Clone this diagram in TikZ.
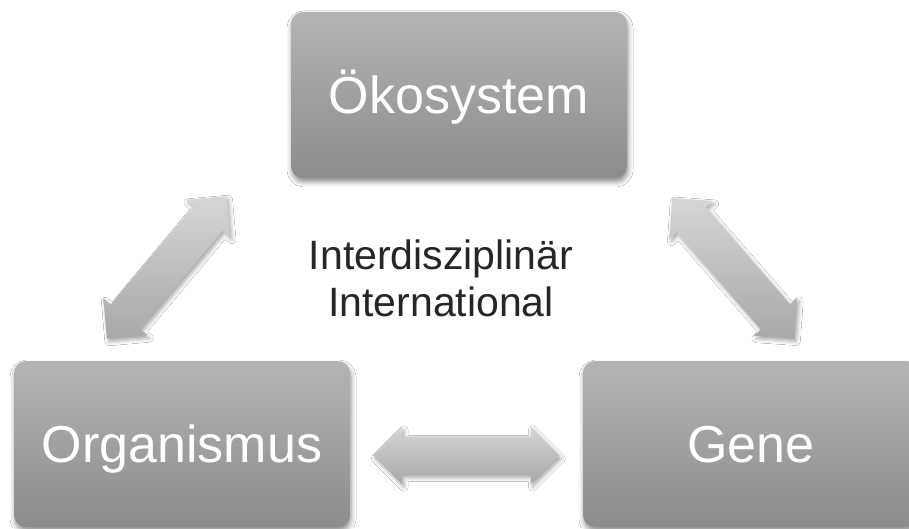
\documentclass[tikz,border=0pt]{standalone}
\usepackage{fontspec}
\setmainfont{Liberation Sans}
\usetikzlibrary{shapes.arrows,shadows.blur}
\definecolor{boxtop}{RGB}{180,180,180}
\definecolor{boxbot}{RGB}{140,140,140}
\definecolor{arrtop}{RGB}{214,214,214}
\definecolor{arrbot}{RGB}{168,168,168}
\definecolor{txtgray}{RGB}{38,38,38}
\begin{document}
\begin{tikzpicture}[x=1pt,y=1pt,
  box/.style={rounded corners=12pt, minimum width=336pt, minimum height=166pt,
    inner sep=0pt, text height=37pt, text depth=0pt,
    top color=boxtop, bottom color=boxbot, draw=none, text=white,
    font=\fontsize{52}{60}\selectfont,
    blur shadow={shadow xshift=1pt, shadow yshift=-4pt, shadow blur radius=5pt, shadow opacity=45}},
  blockarrow/.style={double arrow, double arrow head extend=9.5pt, double arrow tip angle=90,
    minimum height=186pt, inner xsep=0pt, inner ysep=19pt,
    top color=arrtop, bottom color=arrbot, draw=none,
    blur shadow={shadow xshift=2pt, shadow yshift=-3pt, shadow blur radius=4pt, shadow opacity=35}},
  midtext/.style={text=txtgray, font=\fontsize{41}{47}\selectfont, inner sep=0pt, anchor=base}]
\useasboundingbox (0,0) rectangle (909,528);
\fill[white] (0,0) rectangle (909,528);
\node[box] (oko) at (459,433) {Ökosystem};
\node[box] (org) at (182,84) {Organismus};
\node[box] (gene) at (751,84) {Gene};
\node[blockarrow, rotate=50] (arrL) at (166.7,260.5) {};
\node[blockarrow, rotate=-49] (arrR) at (733.3,259.7) {};
\node[blockarrow] (arrB) at (466.3,72.5) {};
\node[midtext] (t1) at (441,259) {Interdisziplinär};
\node[midtext] (t2) at (441,212) {International};
\end{tikzpicture}
\end{document}
